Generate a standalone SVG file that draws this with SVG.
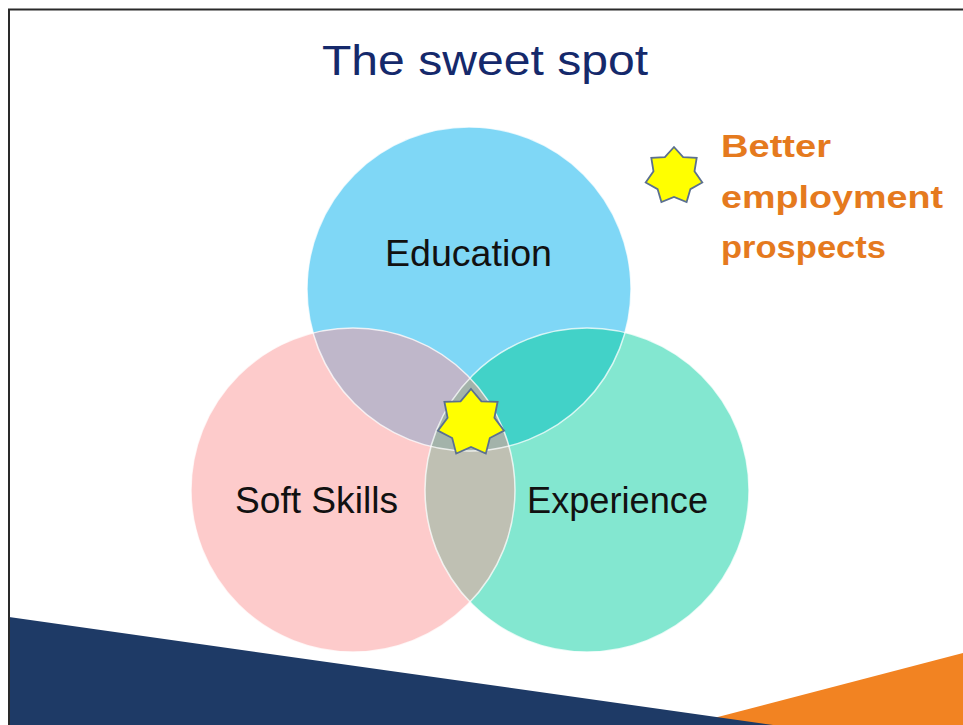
<svg xmlns="http://www.w3.org/2000/svg" width="963" height="725" viewBox="0 0 963 725">
  <style>
    .lbl { font-family: "Liberation Sans", Arial, sans-serif; font-size: 36px; fill: #111111; }
    .title { font-family: "Liberation Sans", Arial, sans-serif; font-size: 42px; fill: #15296b; }
    .key { font-family: "Liberation Sans", Arial, sans-serif; font-size: 32px; font-weight: bold; fill: #e57a1e; }
    .ring { fill: none; stroke: #ffffff; stroke-width: 1.5; stroke-opacity: 0.75; }
    .star { fill: #ffff00; stroke: #5b7090; stroke-width: 1.8; stroke-linejoin: miter; }
  </style>
  <defs>
    <clipPath id="cEdu"><circle cx="469" cy="289" r="162"/></clipPath>
    <clipPath id="cSoft"><circle cx="353" cy="490" r="162"/></clipPath>
    <clipPath id="cExp"><circle cx="587" cy="490" r="162"/></clipPath>
  </defs>

  <rect x="0" y="0" width="963" height="725" fill="#ffffff"/>

  <!-- background shapes -->
  <polygon points="687,725 963,653 963,725" fill="#f28322"/>
  <polygon points="9,617 773,725 9,725" fill="#1e3a66"/>

  <!-- frame -->
  <path d="M9,725 V9.5 H963" fill="none" stroke="#2a2a2a" stroke-width="2"/>

  <text class="title" x="322" y="75" textLength="326" lengthAdjust="spacingAndGlyphs">The sweet spot</text>

  <!-- circles -->
  <g id="education">
    <circle cx="469" cy="289" r="162" fill="#7fd7f6"/>
  </g>
  <g id="soft-skills">
    <circle cx="353" cy="490" r="162" fill="#fdcbcb"/>
  </g>
  <g id="experience">
    <circle cx="587" cy="490" r="162" fill="#83e7d0"/>
  </g>

  <!-- overlaps -->
  <g id="overlaps">
    <circle cx="353" cy="490" r="162" fill="#bfb7ca" clip-path="url(#cEdu)"/>
    <circle cx="587" cy="490" r="162" fill="#42d2c8" clip-path="url(#cEdu)"/>
    <circle cx="587" cy="490" r="162" fill="#bfc0b3" clip-path="url(#cSoft)"/>
    <g clip-path="url(#cEdu)">
      <circle cx="587" cy="490" r="162" fill="#a3b3aa" clip-path="url(#cSoft)"/>
    </g>
    <circle class="ring" cx="469" cy="289" r="162"/>
    <circle class="ring" cx="353" cy="490" r="162"/>
    <circle class="ring" cx="587" cy="490" r="162"/>
  </g>

  <g id="labels">
    <text class="lbl" x="385" y="266" textLength="167" lengthAdjust="spacingAndGlyphs">Education</text>
    <text class="lbl" x="235" y="513" textLength="163" lengthAdjust="spacingAndGlyphs">Soft Skills</text>
    <text class="lbl" x="527" y="513" textLength="181" lengthAdjust="spacingAndGlyphs">Experience</text>
  </g>

  <g id="sweet-spot-star">
    <polygon class="star" points="471,389 481.4,401.4 497.6,401.8 494.4,417.7 504.1,430.6 489.8,438 485.8,453.6 471,447 456.2,453.6 452.2,438 437.9,430.6 447.6,417.7 444.4,401.8 460.6,401.4"/>
  </g>

  <g id="legend">
    <polygon class="star" points="674,147 683.1,157.1 696.7,157.9 694.5,171.3 702.3,182.5 690.4,189.1 686.6,202.1 674,197 661.4,202.1 657.6,189.1 645.7,182.5 653.5,171.3 651.3,157.9 664.9,157.1"/>
    <text class="key" x="721" y="157" textLength="110" lengthAdjust="spacingAndGlyphs">Better</text>
    <text class="key" x="721" y="208" textLength="222" lengthAdjust="spacingAndGlyphs">employment</text>
    <text class="key" x="721" y="258" textLength="165" lengthAdjust="spacingAndGlyphs">prospects</text>
  </g>
</svg>
